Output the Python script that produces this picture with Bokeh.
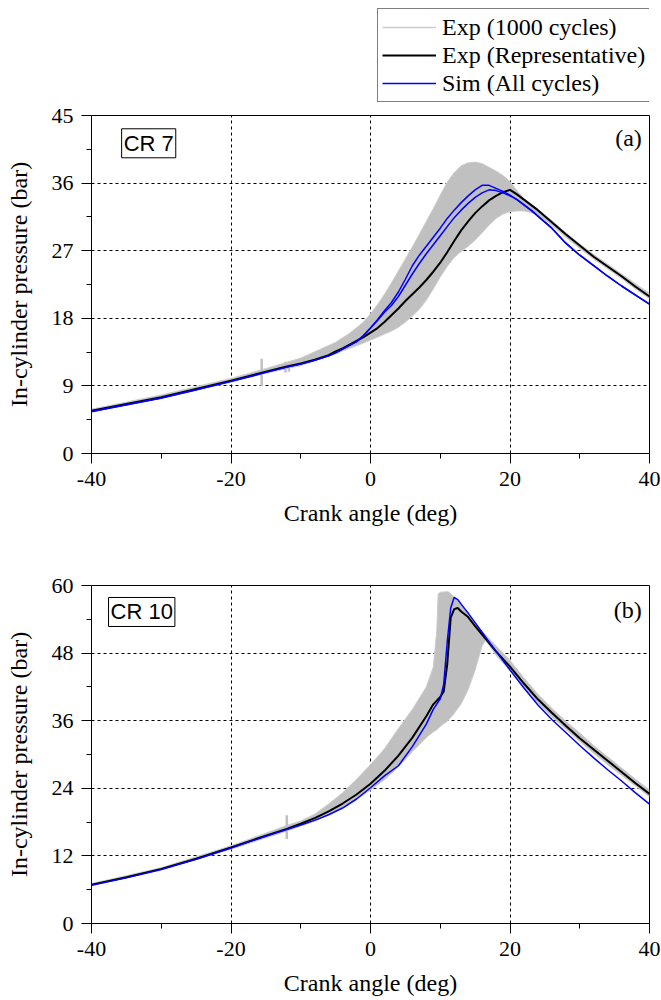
from bokeh.plotting import figure
from bokeh.models import Range1d, FixedTicker, Legend, LegendItem, Label
from bokeh.layouts import column
from bokeh.embed import file_html
from bokeh.resources import INLINE

# ---------------- data: panel (a) CR 7 ----------------
band_x_a = [-40, -30, -20, -15, -10, -5, -3, -1, 0, 1, 2, 3, 4, 5, 6, 7, 8, 9, 10, 11, 12, 13, 14, 15,
            16, 17, 18, 19, 20, 21, 22, 23, 24, 26, 28, 30, 32, 34, 36, 38, 40]
band_hi_a = [5.9, 7.8, 10.0, 11.3, 12.7, 14.8, 16.0, 17.5, 18.6, 19.8, 21.2, 22.7, 24.3, 25.9, 27.5, 29.2,
             30.9, 32.6, 34.4, 36.1, 37.4, 38.3, 38.7, 38.8, 38.6, 38.1, 37.6, 37.0, 36.2, 35.0, 33.9, 33.2,
             32.5, 31.0, 29.4, 27.9, 26.5, 25.2, 23.9, 22.6, 21.3]
band_lo_a = [5.5, 7.3, 9.5, 10.7, 11.7, 13.3, 14.0, 14.7, 15.1, 15.5, 15.9, 16.3, 16.8, 17.5, 18.3, 19.2,
             20.4, 21.9, 23.5, 24.9, 26.1, 26.9, 27.6, 28.4, 29.4, 30.4, 31.3, 31.9, 32.2, 32.3, 32.3, 32.1,
             31.8, 30.4, 28.8, 27.3, 25.9, 24.6, 23.3, 21.9, 20.6]

x_a = [-40, -35, -30, -25, -20, -15, -12, -10, -8, -6, -5, -4, -3, -2, -1, 0, 1, 2, 3, 4, 5, 6, 7, 8, 9,
       10, 11, 12, 13, 14, 15, 16, 17, 18, 19, 20, 21, 22, 23, 24, 26, 28, 30, 32, 34, 36, 38, 40]
rep_a = [5.7, 6.6, 7.5, 8.6, 9.7, 10.9, 11.6, 12.0, 12.5, 13.1, 13.6, 14.0, 14.5, 15.0, 15.5, 16.1,
         16.7, 17.5, 18.4, 19.3, 20.3, 21.2, 22.1, 23.1, 24.2, 25.4, 26.8, 28.3, 29.7, 30.9, 32.0, 32.9,
         33.7, 34.3, 34.8, 35.1, 34.5, 33.8, 33.1, 32.4, 30.8, 29.2, 27.7, 26.2, 24.9, 23.6, 22.2, 20.9]
sim1_a = [5.6, 6.5, 7.4, 8.5, 9.6, 10.8, 11.5, 11.9, 12.4, 13.0, 13.4, 13.9, 14.4, 14.9, 15.7, 16.7,
          17.8, 19.0, 20.1, 21.5, 23.2, 25.0, 26.4, 27.6, 28.8, 30.0, 31.3, 32.4, 33.4, 34.3, 35.1, 35.7,
          35.7, 35.3, 34.9, 34.4, 33.8, 33.1, 32.4, 31.6, 30.0, 28.0, 26.4, 25.0, 23.6, 22.3, 21.1, 19.9]
sim2_a = [5.6, 6.5, 7.4, 8.5, 9.6, 10.8, 11.5, 11.9, 12.4, 13.0, 13.4, 13.9, 14.4, 14.9, 15.7, 16.7,
          17.7, 18.8, 19.7, 20.9, 22.4, 23.9, 25.3, 26.6, 27.8, 29.0, 30.2, 31.4, 32.4, 33.3, 34.1, 34.7,
          35.1, 35.0, 34.7, 34.3, 33.8, 33.1, 32.4, 31.6, 30.0, 28.0, 26.4, 25.0, 23.6, 22.3, 21.1, 19.9]
spike_x_a = [-15.6, -12.2, -11.7]
spike_lo_a = [9.0, 10.8, 10.9]
spike_hi_a = [12.6, 12.2, 12.1]

# ---------------- data: panel (b) CR 10 ----------------
band_x_b = [-40, -30, -20, -12, -10, -8, -6, -4, -2, 0, 2, 4, 6, 8, 9, 9.5, 9.7, 10, 11, 11.3, 12, 13,
            14, 15, 16, 16.5, 18, 20, 22, 24, 26, 28, 30, 32, 34, 36, 38, 40]
band_hi_b = [7.1, 9.9, 13.8, 17.4, 18.2, 19.4, 21.2, 23.2, 25.6, 28.2, 31.0, 34.6, 38.0, 42.0, 45.5, 52.0,
             58.5, 58.8, 58.9, 58.8, 57.9, 56.6, 55.2, 53.4, 51.8, 51.2, 49.3, 46.7, 43.6, 40.7, 38.2,
             35.9, 33.8, 31.6, 29.6, 27.6, 25.6, 23.7]
band_lo_b = [6.7, 9.5, 13.2, 16.4, 17.3, 18.2, 19.3, 20.6, 22.0, 23.7, 25.5, 27.8, 30.5, 33.0, 34.0, 34.4,
             34.6, 35.0, 35.9, 36.3, 37.3, 39.0, 41.5, 45.0, 49.3, 50.3, 47.6, 44.9, 41.9, 39.1, 36.7,
             34.5, 32.3, 30.2, 28.2, 26.3, 24.4, 22.5]

x_b = [-40, -35, -30, -25, -20, -15, -12, -10, -8, -6, -4, -2, 0, 2, 4, 6, 8, 9, 10, 10.5, 11, 11.5,
       12, 12.5, 13, 14, 15, 16, 18, 20, 22, 24, 26, 28, 30, 32, 34, 36, 38, 40]
rep_b = [6.9, 8.2, 9.7, 11.5, 13.5, 15.6, 16.8, 17.7, 18.7, 19.9, 21.3, 22.9, 24.8, 27.1, 29.8, 33.0,
         36.8, 38.9, 40.2, 41.2, 46.0, 54.3, 55.8, 56.0, 55.4, 54.4, 52.8, 51.3, 48.3, 45.6, 42.6, 39.8,
         37.4, 35.1, 32.9, 30.9, 28.9, 26.9, 24.9, 23.0]
sim_b = [6.8, 8.1, 9.6, 11.4, 13.4, 15.5, 16.7, 17.5, 18.3, 19.3, 20.5, 22.1, 24.1, 26.2, 28.0, 31.4,
         35.4, 38.0, 39.9, 42.5, 50.0, 56.0, 57.9, 57.5, 56.7, 55.1, 53.4, 51.7, 48.3, 45.0, 41.8, 38.8,
         36.2, 33.9, 31.6, 29.4, 27.3, 25.3, 23.2, 21.2]
spike_x_b = [-12.0, -9.3]
spike_lo_b = [15.0, 17.6]
spike_hi_b = [19.2, 18.6]

x_ticks = [-40, -20, 0, 20, 40]
x_minor = [-30, -10, 10, 30]
y_ticks_a = [0, 9, 18, 27, 36, 45]
y_minor_a = [4.5, 13.5, 22.5, 31.5, 40.5]
y_ticks_b = [0, 12, 24, 36, 48, 60]
y_minor_b = [6, 18, 30, 42, 54]
legend_labels = ["Exp (1000 cycles)", "Exp (Representative)", "Sim (All cycles)"]

SERIF = "Liberation Serif"
GRAY = "#c0c0c0"
EDGE = "#cccccc"
BLUE = "#0000ff"
NAN = float("nan")


def make_fig(height, top, ymax, yt, ym):
    p = figure(width=661, height=height, output_backend="svg", toolbar_location=None,
               x_range=Range1d(-40, 40), y_range=Range1d(0, ymax),
               min_border_left=91, min_border_right=12, min_border_top=top, min_border_bottom=77)
    p.xaxis.ticker = FixedTicker(ticks=x_ticks, minor_ticks=x_minor)
    p.yaxis.ticker = FixedTicker(ticks=yt, minor_ticks=ym)
    p.xaxis.major_label_overrides = {t: str(t) for t in x_ticks}
    for ax in (p.xaxis[0], p.yaxis[0]):
        ax.major_label_text_font = SERIF
        ax.major_label_text_font_size = "22px"
        ax.major_label_text_color = "black"
        ax.axis_label_text_font = SERIF
        ax.axis_label_text_font_size = "24px"
        ax.axis_label_text_font_style = "normal"
        ax.axis_label_text_color = "black"
        ax.axis_line_color = "black"
        ax.major_tick_line_color = "black"
        ax.minor_tick_line_color = "black"
        ax.major_tick_in = 0
        ax.major_tick_out = 10
        ax.minor_tick_in = 0
        ax.minor_tick_out = 5
    p.xaxis.major_label_standoff = 8
    p.yaxis.major_label_standoff = 8
    p.xaxis.axis_label = "Crank angle (deg)"
    p.yaxis.axis_label = "In-cylinder pressure (bar)"
    p.xaxis.axis_label_standoff = 11
    p.yaxis.axis_label_standoff = 17
    for g in (p.xgrid[0], p.ygrid[0]):
        g.grid_line_color = "black"
        g.grid_line_dash = "3 3"
        g.grid_line_width = 1
    p.outline_line_color = "black"
    p.outline_line_width = 1
    p.outline_line_alpha = 1
    p.background_fill_color = "white"
    p.border_fill_color = "white"
    return p


def draw(p, bx, blo, bhi, sx, slo, shi, x, rep, sims):
    p.varea(x=bx, y1=blo, y2=bhi, fill_color=GRAY)
    p.line(bx, bhi, line_color=EDGE, line_width=1)
    p.line(bx, blo, line_color=EDGE, line_width=1)
    p.segment(x0=sx, y0=slo, x1=sx, y1=shi, line_color=GRAY, line_width=2.5)
    p.line(x, rep, line_color="black", line_width=2)
    for s in sims:
        p.line(x, s, line_color=BLUE, line_width=1.5)


# ---------------- legend strip above panel (a) ----------------
leg = figure(width=661, height=103, output_backend="svg", toolbar_location=None,
             x_range=Range1d(0, 1), y_range=Range1d(0, 1),
             min_border_left=91, min_border_right=12, min_border_top=0, min_border_bottom=0)
leg.axis.visible = False
leg.grid.visible = False
leg.outline_line_color = None
leg.background_fill_color = "white"
leg.border_fill_color = "white"
lg1 = leg.line(x=[NAN], y=[NAN], line_color=EDGE, line_width=1.5)
lg2 = leg.line(x=[NAN], y=[NAN], line_color="black", line_width=2)
lg3 = leg.line(x=[NAN], y=[NAN], line_color=BLUE, line_width=1.5)
legend = Legend(items=[LegendItem(label=legend_labels[0], renderers=[lg1]),
                       LegendItem(label=legend_labels[1], renderers=[lg2]),
                       LegendItem(label=legend_labels[2], renderers=[lg3])],
                location=(286, 1), orientation="vertical",
                label_text_font=SERIF, label_text_font_size="24px", label_text_color="black",
                glyph_width=54, glyph_height=28, label_height=28, spacing=0, padding=4, margin=0,
                label_standoff=6, border_line_color="black", border_line_width=1,
                background_fill_color="white", background_fill_alpha=1)
leg.add_layout(legend, "center")

pa = make_fig(427, 12, 45, y_ticks_a, y_minor_a)
draw(pa, band_x_a, band_lo_a, band_hi_a, spike_x_a, spike_lo_a, spike_hi_a,
     x_a, rep_a, [sim1_a, sim2_a])

pb = make_fig(470, 55, 60, y_ticks_b, y_minor_b)
draw(pb, band_x_b, band_lo_b, band_hi_b, spike_x_b, spike_lo_b, spike_hi_b, x_b, rep_b, [sim_b])

for p, txt, lx, ly, tag, ty in ((pa, "CR 7", -31.8, 41.3, "(a)", 42.0),
                                 (pb, "CR 10", -32.8, 55.3, "(b)", 55.6)):
    p.add_layout(Label(x=lx, y=ly, text=txt, text_font="Liberation Sans", text_font_size="22px",
                       text_align="center", text_baseline="middle", text_color="black",
                       border_line_color="black", border_line_width=1, padding=2,
                       background_fill_color="white"))
    p.add_layout(Label(x=38.9, y=ty, text=tag, text_font=SERIF, text_font_size="24px",
                       text_align="right", text_baseline="middle", text_color="black"))

layout = column(leg, pa, pb, spacing=0)
open("out.html", "w").write(file_html(layout, INLINE))
